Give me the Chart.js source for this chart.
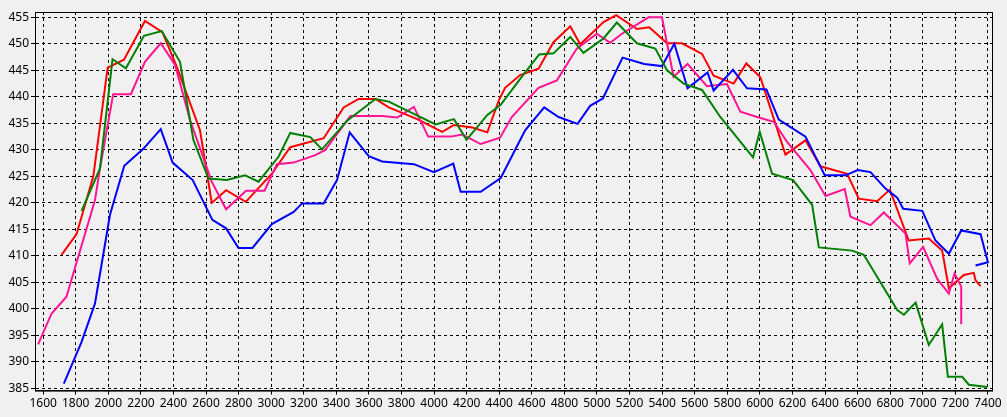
<!DOCTYPE html>
<html>
<head>
<meta charset="utf-8">
<script src="https://cdn.jsdelivr.net/npm/chart.js@4"></script>
<style>
  html, body { margin: 0; padding: 0; background: #f0f0f0; }
  #wrap { width: 1007px; height: 417px; }
</style>
</head>
<body>
<div id="wrap"><canvas id="chart"></canvas></div>
<script>
// each series: [rpm, value] pairs
const pinkSeries = [
  [1569,393.3],[1651,399.1],[1743,402.3],[1918,420.5],[1949,426.5],[2030,440.5],[2139,440.5],[2225,446.6],
  [2322,450.1],[2410,446],[2502,435.6],[2635,424],[2723,418.8],[2846,422.3],[2959,422.3],[3035,427.3],
  [3138,427.6],[3271,429],[3332,430],[3486,436.4],[3681,436.4],[3773,436.1],[3876,438.1],[3964,432.5],
  [4101,432.5],[4173,432.9],[4286,431.1],[4405,432.3],[4477,436.2],[4641,441.7],[4754,443.1],[4876,449.1],
  [4999,451.9],[5081,450.2],[5153,451.9],[5317,455],[5399,455],[5470,443.8],[5556,446.2],[5675,442],
  [5798,442.4],[5880,437.2],[5993,436.1],[6085,435.3],[6167,431.5],[6310,426.2],[6403,421.3],[6521,422.6],
  [6556,417.4],[6679,415.8],[6761,418.2],[6894,414.2],[6920,408.6],[7002,411.7],[7088,405.7],[7160,402.9],
  [7195,406.7],[7236,404.2],[7236,397.1]
];
const redSeries = [
  [1713,410.2],[1805,414.1],[1908,425],[1996,445.5],[2096,447],[2225,454.3],[2332,452.2],[2420,445.7],
  [2563,433.7],[2635,420],[2723,422.4],[2844,420.2],[3004,425.5],[3117,430.5],[3322,432.2],[3445,438],
  [3537,439.6],[3640,439.6],[3722,438],[3896,435.8],[4050,433.4],[4122,434.7],[4234,434.2],[4327,433.3],
  [4398,439.4],[4436,441.7],[4528,444.1],[4641,445.3],[4733,450.3],[4836,453.3],[4897,449.9],[5040,454.1],
  [5118,455.4],[5245,452.8],[5321,453.1],[5430,450.1],[5522,450.1],[5645,448.1],[5716,444],[5839,442.5],
  [5917,446.3],[6003,443.7],[6157,429.1],[6280,431.8],[6372,426.9],[6536,425.5],[6607,420.8],[6720,420.3],
  [6798,422.5],[6914,412.9],[7037,413.3],[7119,411],[7160,403.9],[7252,406.4],[7313,406.8],[7324,405.4],
  [7355,404.3]
];
const greenSeries = [
  [1836,418.5],[1949,426.5],[2026,447.1],[2108,445.4],[2219,451.5],[2328,452.4],[2440,446.6],[2522,431.9],
  [2615,424.6],[2727,424.3],[2840,425.2],[2922,424],[3045,428.7],[3117,433.2],[3240,432.4],[3312,430.1],
  [3466,435.5],[3640,439.6],[3722,439.1],[4009,434.8],[4122,435.8],[4199,431.9],[4327,436.6],[4409,438.5],
  [4539,443.8],[4645,448],[4733,448.2],[4836,451.3],[4917,448.3],[5040,451],[5122,454],[5245,450.1],
  [5358,449.1],[5430,445],[5532,442.5],[5645,441.3],[5757,436.2],[5958,428.6],[5999,433.4],[6075,425.5],
  [6204,424.3],[6321,419.6],[6362,411.6],[6566,411],[6638,410.2],[6843,399.8],[6884,398.9],[6956,401.2],
  [7037,393.2],[7119,397.1],[7154,387.2],[7242,387.2],[7283,385.7],[7396,385.3]
];
const blueSeries = [
  [1727,385.9],[1836,393.8],[1918,401],[2010,417.7],[2098,427],[2215,430.2],[2322,433.9],[2395,427.6],
  [2518,424.3],[2639,416.8],[2723,415.2],[2799,411.5],[2885,411.5],[3004,416],[3138,418.3],[3189,419.9],
  [3322,419.9],[3404,424.3],[3482,433.3],[3599,428.8],[3681,427.8],[3876,427.3],[3999,425.8],[4118,427.4],
  [4163,422.1],[4286,422.1],[4409,424.7],[4559,433.7],[4676,438],[4764,436.2],[4881,434.9],[4958,438.3],
  [5036,439.7],[5157,447.4],[5290,446.2],[5399,445.8],[5475,450],[5556,441.6],[5679,444.6],[5716,441.2],
  [5835,445.1],[5921,441.6],[6040,441.4],[6116,435.7],[6280,432.5],[6398,425.2],[6525,425.2],[6601,426.2],
  [6679,425.8],[6771,422.7],[6843,421],[6880,418.9],[6997,418.5],[7078,412.9],[7160,410.4],[7236,414.8],
  [7355,414.1],[7400,408.8],[7324,408.2]
];
const xTickValues = [];
for (let v = 1600; v <= 7400; v += 200) xTickValues.push(v);
const yTickValues = [];
for (let v = 385; v <= 455; v += 5) yTickValues.push(v);

function toPoints(series) {
  return series.map(function(p) { return { x: p[0], y: p[1] }; });
}

function makeDataset(series, colour) {
  return {
    data: toPoints(series),
    borderColor: colour,
    borderWidth: 2,
    pointRadius: 0,
    tension: 0,
    fill: false,
  };
}

// solid frame round the plot area
const framePlugin = {
  id: 'frame',
  afterDraw(chart) {
    const a = chart.chartArea, c = chart.ctx;
    c.save();
    c.strokeStyle = '#000';
    c.lineWidth = 1;
    c.strokeRect(a.left + 0.5, a.top + 0.5, a.right - a.left, a.bottom - a.top);
    c.restore();
  }
};

const gridOpts = { color: '#000', lineWidth: 1, tickLength: 4, drawTicks: true };
const tickFont = { family: 'Noto Sans', size: 12 };

new Chart(document.getElementById('chart'), {
  type: 'line',
  data: {
    datasets: [
      makeDataset(greenSeries, '#008000'),
      makeDataset(blueSeries, '#0000ff'),
      makeDataset(pinkSeries, '#ff1493'),
      makeDataset(redSeries, '#ff0000'),
    ]
  },
  options: {
    responsive: true,
    maintainAspectRatio: false,
    animation: false,
    plugins: { legend: { display: false }, tooltip: { enabled: false } },
    layout: { padding: { top: 12, right: 15, left: 0, bottom: 4 } },
    scales: {
      x: {
        type: 'linear',
        min: 1550,
        max: 7425,
        afterBuildTicks: function(axis) { axis.ticks = xTickValues.map(function(v) { return { value: v }; }); },
        ticks: { color: '#000', font: tickFont, maxRotation: 0, autoSkip: false, padding: 2,
                 callback: function(v) { return String(v); } },
        grid: gridOpts,
        border: { dash: [3, 3], color: '#000' },
      },
      y: {
        min: 384.6,
        max: 456,
        afterBuildTicks: function(axis) { axis.ticks = yTickValues.map(function(v) { return { value: v }; }); },
        afterFit: function(axis) { axis.width = 35; },
        ticks: { color: '#000', font: tickFont, autoSkip: false, padding: 2,
                 callback: function(v) { return String(v); } },
        grid: gridOpts,
        border: { dash: [3, 3], color: '#000' },
      }
    }
  },
  plugins: [framePlugin]
});
</script>
</body>
</html>
